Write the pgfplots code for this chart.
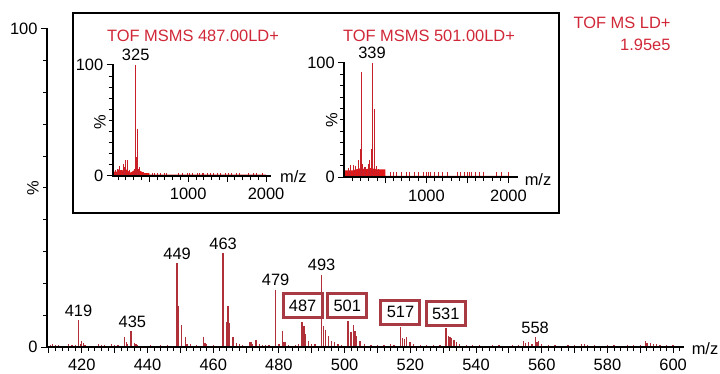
\documentclass[border=0pt]{standalone}
\usepackage{fontspec}
\setmainfont{Liberation Sans}
\usepackage{pgfplots}
\pgfplotsset{compat=1.18}
\definecolor{peak}{HTML}{B0303A}
\definecolor{ttl}{HTML}{D02838}
\definecolor{boxc}{HTML}{A83A44}
\definecolor{fillr}{HTML}{E01818}
\definecolor{spk}{HTML}{C82028}
\newcommand\fs{\fontsize{16.5}{19}\selectfont}
\pgfplotsset{
  msaxis/.style={
    scale only axis,
    anchor=south west,
    axis x line=bottom, axis y line=left,
    axis line style={line width=1.8bp,-},
    tick style={line width=1bp,black},
    tick align=outside,
    major tick length=6bp, minor tick length=4bp,
    ticklabel style={font=\fs},
    xticklabel style={yshift=-3bp},
    /pgf/number format/assume math mode=true,
    /pgf/number format/1000 sep={},
    ymin=0, ymax=100,
    ytick={0,100}, minor ytick={10,20,...,90},
    clip=false,
  },
}
\tikzset{axlines/.style={line width=2.2bp, black, line cap=rect}}
\pgfplotstableread{
x y
410.5 0.6
411 0.8
412 0.5
413 0.6
414 0.4
416 0.9
417 0.5
418 0.6
419 8.5
419.5 1.0
420 2.0
420.5 1.2
421 0.5
423 0.4
425 0.8
426 0.5
427 0.6
428 0.4
429 1.0
430 0.7
431 0.5
433 3.0
433.5 1.5
434 1.0
435 5.0
436 1.2
436.5 0.8
437 0.6
439 0.4
441 0.5
444 0.7
446 0.5
447 0.4
449 26.3
449.4 13.0
450.3 7.0
451.5 3.0
452 1.0
453 0.8
455 0.6
457 3.0
457.5 1.2
458 0.8
460 0.5
461 0.4
463 29.5
464 8.0
464.5 13.0
465 7.5
466 3.0
467 1.2
468 0.8
469 0.6
471 1.5
471.5 1.5
472 0.8
473 2.2
474 1.0
475 0.7
476 0.5
477 0.6
479 18.0
480 0.8
481 5.0
481.5 1.5
482 1.5
483 0.7
485 0.6
486 0.8
487 8.0
487.6 6.5
488 4.0
489 1.8
490 1.0
491 0.8
493 22.6
493.6 6.6
494.2 5.3
495 3.6
496 2.0
497 1.5
498 0.8
499 0.6
501 8.2
501.9 4.8
502.7 6.9
503.2 5.0
503.7 3.6
504.7 1.8
506 0.8
508 0.6
510 0.5
512 0.6
514 0.8
515 0.6
516.9 6.2
517.7 2.7
518.3 2.4
518.9 3.0
519.9 1.5
521 0.8
523 0.6
525 0.5
527 0.6
529 0.5
530.9 5.9
531.6 3.5
532.1 3.2
532.6 2.8
533.3 2.2
534 1.5
535 1.0
537 0.6
539 0.5
541 0.6
543 0.4
545 0.5
547 0.5
549 0.4
551 0.5
553 0.7
554.5 1.8
555 1.2
556 1.5
557 1.0
558 3.2
558.6 1.5
559 1.8
560 0.8
562 0.5
564 0.5
566 0.4
568 0.5
570 0.6
572 1.0
573 0.8
574 0.5
576 0.5
578 0.4
580 0.5
582 0.6
584 0.4
586 0.5
588 0.5
590 0.6
591.5 1.8
592 1.2
593 1.4
594 1.0
595 0.8
596 0.6
598 0.5
600 0.5
602 0.4
}\mainspec
\pgfplotstableread{
x y
60 5
90 6
111 9
140 5
166 11
180 8
197 14.4
217 14
245 5
280 4
310 6
325 100
337 17
350 42
365 6
380 8
420 4
540 2.5
570 2.5
600 2.5
650 2.5
690 2.5
720 2.5
880 2.5
920 2.5
990 2.5
1020 2.5
1060 2.5
1120 2.5
1150 2.5
1180 2.5
1200 2.5
1250 2.5
1290 2.5
1330 2.5
1380 2.5
1420 2.5
1480 2.5
1520 2.5
1560 2.5
1620 2.5
1660 2.5
1780 2.5
1840 2.5
1880 2.5
1960 2.5
}\insetA
\pgfplotstableread{
x y
50 8
80 11
110 11
140 10
170 15
200 25
210 91.6
225 12
240 9
260 9
290 12
311 15
330 25
339 100
367 60
390 10
420 7
560 5
600 5
640 5
700 5
760 5
800 5
850 5
900 5
960 5
1000 5
1020 5
1050 5
1100 5
1150 5
1200 5
1260 5
1380 5
1420 5
1460 5
1500 5
1520 5
1550 5
1600 5
1650 5
1700 5
1850 5
1920 5
2000 5
}\insetB
\begin{document}
\begin{tikzpicture}[font=\fs]
\path[use as bounding box] (0bp,0bp) rectangle (720bp,374bp);

% main spectrum
\begin{axis}[msaxis, at={(47bp,27bp)}, width=636bp, height=318bp,
  xmin=409.4, xmax=603,
  xtick={420,440,...,600},
  extra x ticks={410,430,...,590}, extra x tick labels={},
  minor xtick={410,412,...,602},
]
\addplot[ycomb, peak, line width=1.3bp, mark=none] table[x=x,y=y] {\mainspec};
\node at (axis cs:419,11.4) {419};
\node at (axis cs:435.4,7.8) {435};
\node at (axis cs:449,29.2) {449};
\node at (axis cs:463,32.3) {463};
\node at (axis cs:479,21.1) {479};
\node at (axis cs:493,25.8) {493};
\node at (axis cs:558,5.9) {558};
\tikzset{bx/.style={draw=boxc, line width=3bp, minimum width=39bp, minimum height=24bp, inner sep=1bp, fill=white}}
\node[bx] at (axis cs:487.2,12.9) {487};
\node[bx] at (axis cs:500.8,12.9) {501};
\node[bx] at (axis cs:517,10.9) {517};
\node[bx] at (axis cs:530.8,10.5) {531};
\end{axis}
\draw[axlines] (47bp,345bp) -- (47bp,27bp) -- (683bp,27bp);
\node[rotate=90] at (33bp,186bp) {\%};
\node at (705bp,25bp) {m/z};

% inset frame
\draw[line width=1.3bp] (73bp,161bp) rectangle (559bp,361bp);

% inset 1
\begin{axis}[msaxis, at={(112.7bp,198bp)}, width=157.3bp, height=111bp,
  xmin=30, xmax=2050,
  xtick={1000,2000}, extra x ticks={500,1500}, extra x tick labels={},
  minor xtick={100,200,...,2000},
]
\addplot[fill=fillr, draw=none] coordinates {(30,0) (30,4) (100,4) (100,6) (150,5) (200,6) (260,3) (300,5) (340,6) (400,4) (440,2.5) (500,2.5) (500,1.2) (2000,1.2) (2000,0)};
\addplot[ycomb, spk, line width=1bp, mark=none] table[x=x,y=y] {\insetA};
\end{axis}
\draw[axlines] (112.7bp,309bp) -- (112.7bp,198bp) -- (270bp,198bp);
\node[ttl] at (193bp,338bp) {TOF MSMS 487.00LD+};
\node at (135.7bp,319bp) {325};
\node[rotate=90] at (100bp,252.3bp) {\%};
\node at (293.3bp,197.3bp) {m/z};

% inset 2
\begin{axis}[msaxis, at={(344.3bp,196.7bp)}, width=172.4bp, height=114.6bp,
  xmin=0, xmax=2100,
  xtick={1000,2000}, extra x ticks={500,1500}, extra x tick labels={},
  minor xtick={100,200,...,2000},
]
\addplot[fill=fillr, draw=none] coordinates {(10,0) (10,6) (100,6) (150,7) (200,8) (260,7) (320,8) (400,7) (500,7) (500,1.2) (2000,1.2) (2000,0)};
\addplot[ycomb, spk, line width=1bp, mark=none] table[x=x,y=y] {\insetB};
\end{axis}
\draw[axlines] (344.3bp,311.3bp) -- (344.3bp,196.7bp) -- (516.7bp,196.7bp);
\node[ttl] at (429bp,338bp) {TOF MSMS 501.00LD+};
\node at (372bp,321bp) {339};
\node[rotate=90] at (331.7bp,254bp) {\%};
\node at (538bp,194bp) {m/z};

% top right
\node[ttl, anchor=east] at (674bp,351bp) {TOF MS LD+};
\node[ttl, anchor=east] at (674bp,329bp) {1.95e5};
\end{tikzpicture}
\end{document}
